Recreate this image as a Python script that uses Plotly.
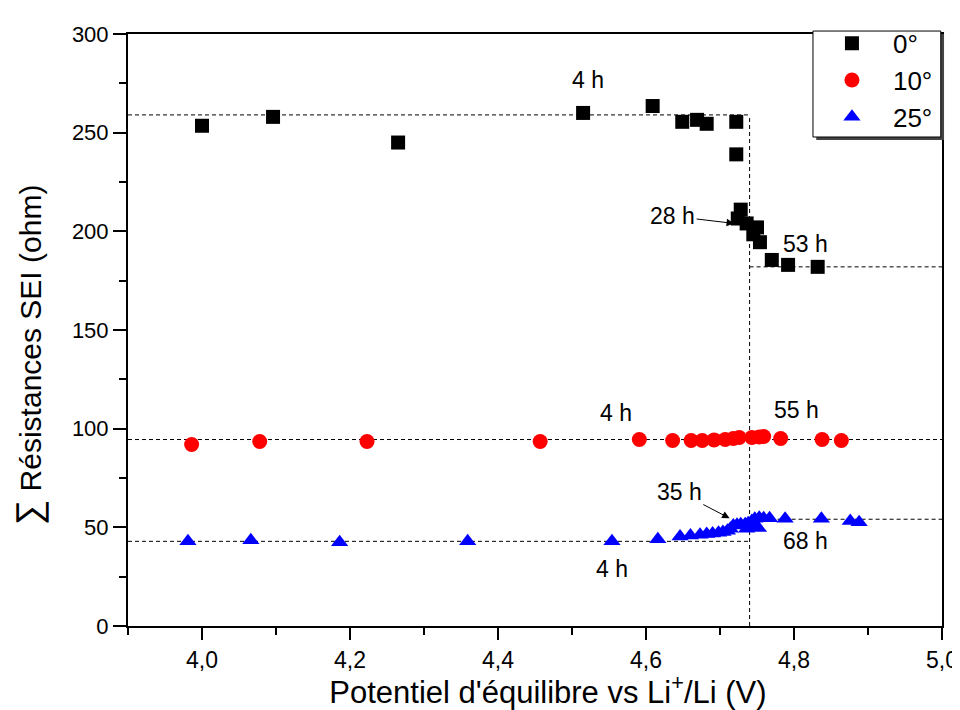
import plotly.graph_objects as go

# ---- data ----
x_0deg = [4.000, 4.096, 4.265, 4.515, 4.609, 4.649, 4.669, 4.682, 4.722, 4.722,
          4.728, 4.724, 4.736, 4.750, 4.745, 4.754, 4.770, 4.792, 4.832]
y_0deg = [253.5, 258.0, 245.0, 260.0, 263.5, 255.5, 256.5, 254.5, 255.5, 239.0,
          211.0, 206.5, 204.0, 202.0, 198.5, 194.5, 185.5, 183.0, 182.0]

x_10deg = [3.986, 4.078, 4.223, 4.457, 4.591, 4.636, 4.661, 4.676, 4.692, 4.707,
           4.718, 4.726, 4.743, 4.753, 4.759, 4.782, 4.838, 4.864]
y_10deg = [92.0, 93.5, 93.5, 93.5, 94.5, 94.0, 94.0, 94.0, 94.3, 94.5,
           95.0, 95.5, 95.5, 95.8, 96.0, 95.0, 94.5, 94.0]

x_25deg = [3.981, 4.066, 4.186, 4.359, 4.554, 4.616, 4.646, 4.660, 4.673, 4.682,
           4.690, 4.698, 4.704, 4.710, 4.714, 4.718, 4.723, 4.728, 4.734, 4.736,
           4.738, 4.743, 4.745, 4.747, 4.752, 4.753, 4.759, 4.767, 4.788, 4.837,
           4.876, 4.888]
y_25deg = [42.9, 43.4, 42.4, 42.9, 42.9, 43.9, 45.4, 45.9, 46.3, 46.6,
           46.9, 47.3, 47.6, 48.3, 49.3, 50.9, 51.3, 51.6, 51.6, 49.3,
           52.1, 53.2, 50.4, 54.3, 49.6, 54.9, 54.6, 54.6, 54.3, 54.3,
           53.2, 52.6]

# reference (dashed) levels
x_transition = 4.740
lvl_0_start, lvl_0_end = 259.0, 182.0
lvl_10 = 94.5
lvl_25_start, lvl_25_end = 42.9, 54.1
x_min, x_max = 3.9, 5.0
y_min, y_max = 0, 300

# text labels: (x, y, text)
labels = [
    (4.522, 276.6, "4 h"), (4.816, 193.7, "53 h"),
    (4.559, 107.8, "4 h"), (4.803, 109.3, "55 h"),
    (4.816, 42.9, "68 h"), (4.554, 29.0, "4 h"),
]
# arrow labels: (text_x, text_y, head_x, head_y, text)
arrows = [
    (4.636, 207.7, 4.719, 204.0, "28 h"),
    (4.645, 67.9, 4.713, 54.6, "35 h"),
]

FONT = "Liberation Sans, Arial, sans-serif"

fig = go.Figure()
fig.add_trace(go.Scatter(x=x_0deg, y=y_0deg, mode="markers", name="0°",
                         marker=dict(symbol="square", size=14, color="black")))
fig.add_trace(go.Scatter(x=x_10deg, y=y_10deg, mode="markers", name="10°",
                         marker=dict(symbol="circle", size=15, color="#ff0000")))
fig.add_trace(go.Scatter(x=x_25deg, y=y_25deg, mode="markers", name="25°",
                         marker=dict(symbol="triangle-up", size=15, color="#0000ff")))

dash = dict(color="black", width=1, dash="4px,3px")
shapes = [
    dict(type="line", xref="x", yref="y", x0=x_min, x1=x_transition,
         y0=lvl_0_start, y1=lvl_0_start, line=dash),
    dict(type="line", xref="x", yref="y", x0=x_transition, x1=x_max,
         y0=lvl_0_end, y1=lvl_0_end, line=dash),
    dict(type="line", xref="x", yref="y", x0=x_transition, x1=x_transition,
         y0=y_min, y1=lvl_0_start, line=dash),
    dict(type="line", xref="x", yref="y", x0=x_min, x1=x_max,
         y0=lvl_10, y1=lvl_10, line=dash),
    dict(type="line", xref="x", yref="y", x0=x_min, x1=x_transition,
         y0=lvl_25_start, y1=lvl_25_start, line=dash),
    dict(type="line", xref="x", yref="y", x0=x_transition, x1=x_max,
         y0=lvl_25_end, y1=lvl_25_end, line=dash),
]
for s in shapes:
    s["layer"] = "below"

# legend box with shadow (paper coords of the plot area)
lg_x0, lg_x1, lg_y0, lg_y1 = 0.8415, 0.9985, 0.826, 1.005
shapes.append(dict(type="rect", xref="paper", yref="paper",
                   x0=lg_x0 + 0.004, x1=lg_x1 + 0.004, y0=lg_y0 - 0.005, y1=lg_y1 - 0.005,
                   fillcolor="#444444", line=dict(width=0), layer="above"))
shapes.append(dict(type="rect", xref="paper", yref="paper",
                   x0=lg_x0, x1=lg_x1, y0=lg_y0, y1=lg_y1,
                   fillcolor="white", line=dict(color="black", width=1), layer="above"))

annotations = []
for (x, y, t) in labels:
    annotations.append(dict(x=x, y=y, text=t, showarrow=False,
                            font=dict(family=FONT, size=23, color="black")))
for (tx, ty, hx, hy, t) in arrows:
    annotations.append(dict(x=hx, y=hy, ax=tx, ay=ty, axref="x", ayref="y",
                            text=t, showarrow=True, arrowhead=2, arrowsize=1.5,
                            arrowwidth=1, arrowcolor="black",
                            font=dict(family=FONT, size=23, color="black")))

# page body has an 8px default margin -> figure spans 952x702 from (8, 8)
fig.update_layout(
    width=952, height=702,
    margin=dict(l=120, r=18, t=17, b=84),
    paper_bgcolor="white", plot_bgcolor="white",
    separators=",.",
    font=dict(family=FONT, color="black"),
    shapes=shapes, annotations=annotations,
    showlegend=True,
    legend=dict(x=0.839, y=1.024, xanchor="left", yanchor="top",
                bgcolor="rgba(0,0,0,0)", borderwidth=0,
                itemwidth=72,
                font=dict(family=FONT, size=26, color="black"),
                itemsizing="trace"),
)
fig.update_xaxes(
    range=[x_min, x_max], tick0=4.0, dtick=0.2, tickformat=".1f",
    ticks="outside", ticklen=12, tickwidth=2, tickcolor="black",
    minor=dict(ticks="outside", ticklen=7, dtick=0.1, tick0=4.0, tickcolor="black", tickwidth=2),
    showline=True, linecolor="black", linewidth=2, mirror=True,
    showgrid=False, zeroline=False, automargin=False,
    tickfont=dict(family=FONT, size=23),
    title=dict(text="&nbsp;&nbsp;&nbsp;Potentiel d'équilibre vs Li<sup>+</sup>/Li (V)",
               font=dict(family=FONT, size=31)),
)
fig.update_yaxes(
    range=[y_min, y_max], dtick=50,
    ticks="outside", ticklen=13, tickwidth=2, tickcolor="black",
    minor=dict(ticks="outside", ticklen=7, dtick=25, tickcolor="black", tickwidth=2),
    showline=True, linecolor="black", linewidth=2, mirror=True,
    showgrid=False, zeroline=False, automargin=True,
    tickfont=dict(family=FONT, size=22),
    title=dict(text="<span style='font-size:36px'>∑</span> Résistances SEI (ohm)"
                    "&nbsp;&nbsp;&nbsp;&nbsp;&nbsp;&nbsp;",
               font=dict(family=FONT, size=30), standoff=27),
)

fig.write_html("out.html")
